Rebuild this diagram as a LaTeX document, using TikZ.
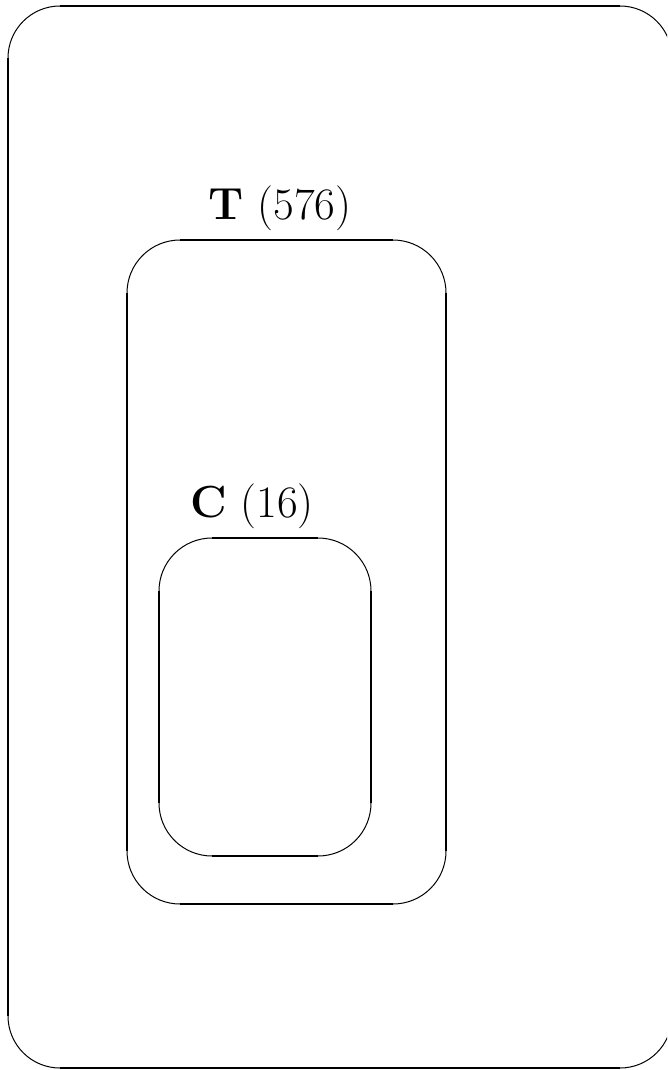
\documentclass[tikz,border=0pt]{standalone}
\usetikzlibrary{calc}
\tikzset{
  sideline/.style={line width=2pt, line cap=butt},
  cornerline/.style={line width=1pt},
  setlabel/.style={font=\fontsize{45}{54}\selectfont, inner sep=0pt, anchor=base}
}
% Rounded box with heavier straight sides and lighter corners.
% #1,#2 = left, top; #3,#4 = right, bottom; #5 = corner radius (all in pt, y downward)
\newcommand{\roundbox}[5]{%
  \draw[sideline] (#1+#5,-#2) -- (#3-#5,-#2);
  \draw[sideline] (#1+#5,-#4) -- (#3-#5,-#4);
  \draw[sideline] (#1,-#2-#5) -- (#1,-#4+#5);
  \draw[sideline] (#3,-#2-#5) -- (#3,-#4+#5);
  \draw[cornerline] (#1,-#2-#5) arc[start angle=180,end angle=90,radius=#5];
  \draw[cornerline] (#3-#5,-#2) arc[start angle=90,end angle=0,radius=#5];
  \draw[cornerline] (#3,-#4+#5) arc[start angle=0,end angle=-90,radius=#5];
  \draw[cornerline] (#1+#5,-#4) arc[start angle=270,end angle=180,radius=#5];
}
\begin{document}
\begin{tikzpicture}[x=1pt,y=1pt]
  \useasboundingbox (0,0) rectangle (667,-1070);
  \clip (0,0) rectangle (667,-1070);
  % universe
  \roundbox{8}{6}{672}{1068}{52}
  % set T
  \roundbox{127}{240}{446}{904}{53}
  \node[setlabel] (tlabel) at (280,-219) {\textbf{T} (576)};
  % set C
  \roundbox{159}{538}{371}{856}{53}
  \node[setlabel] (clabel) at (252,-517) {\textbf{C} (16)};
\end{tikzpicture}
\end{document}
